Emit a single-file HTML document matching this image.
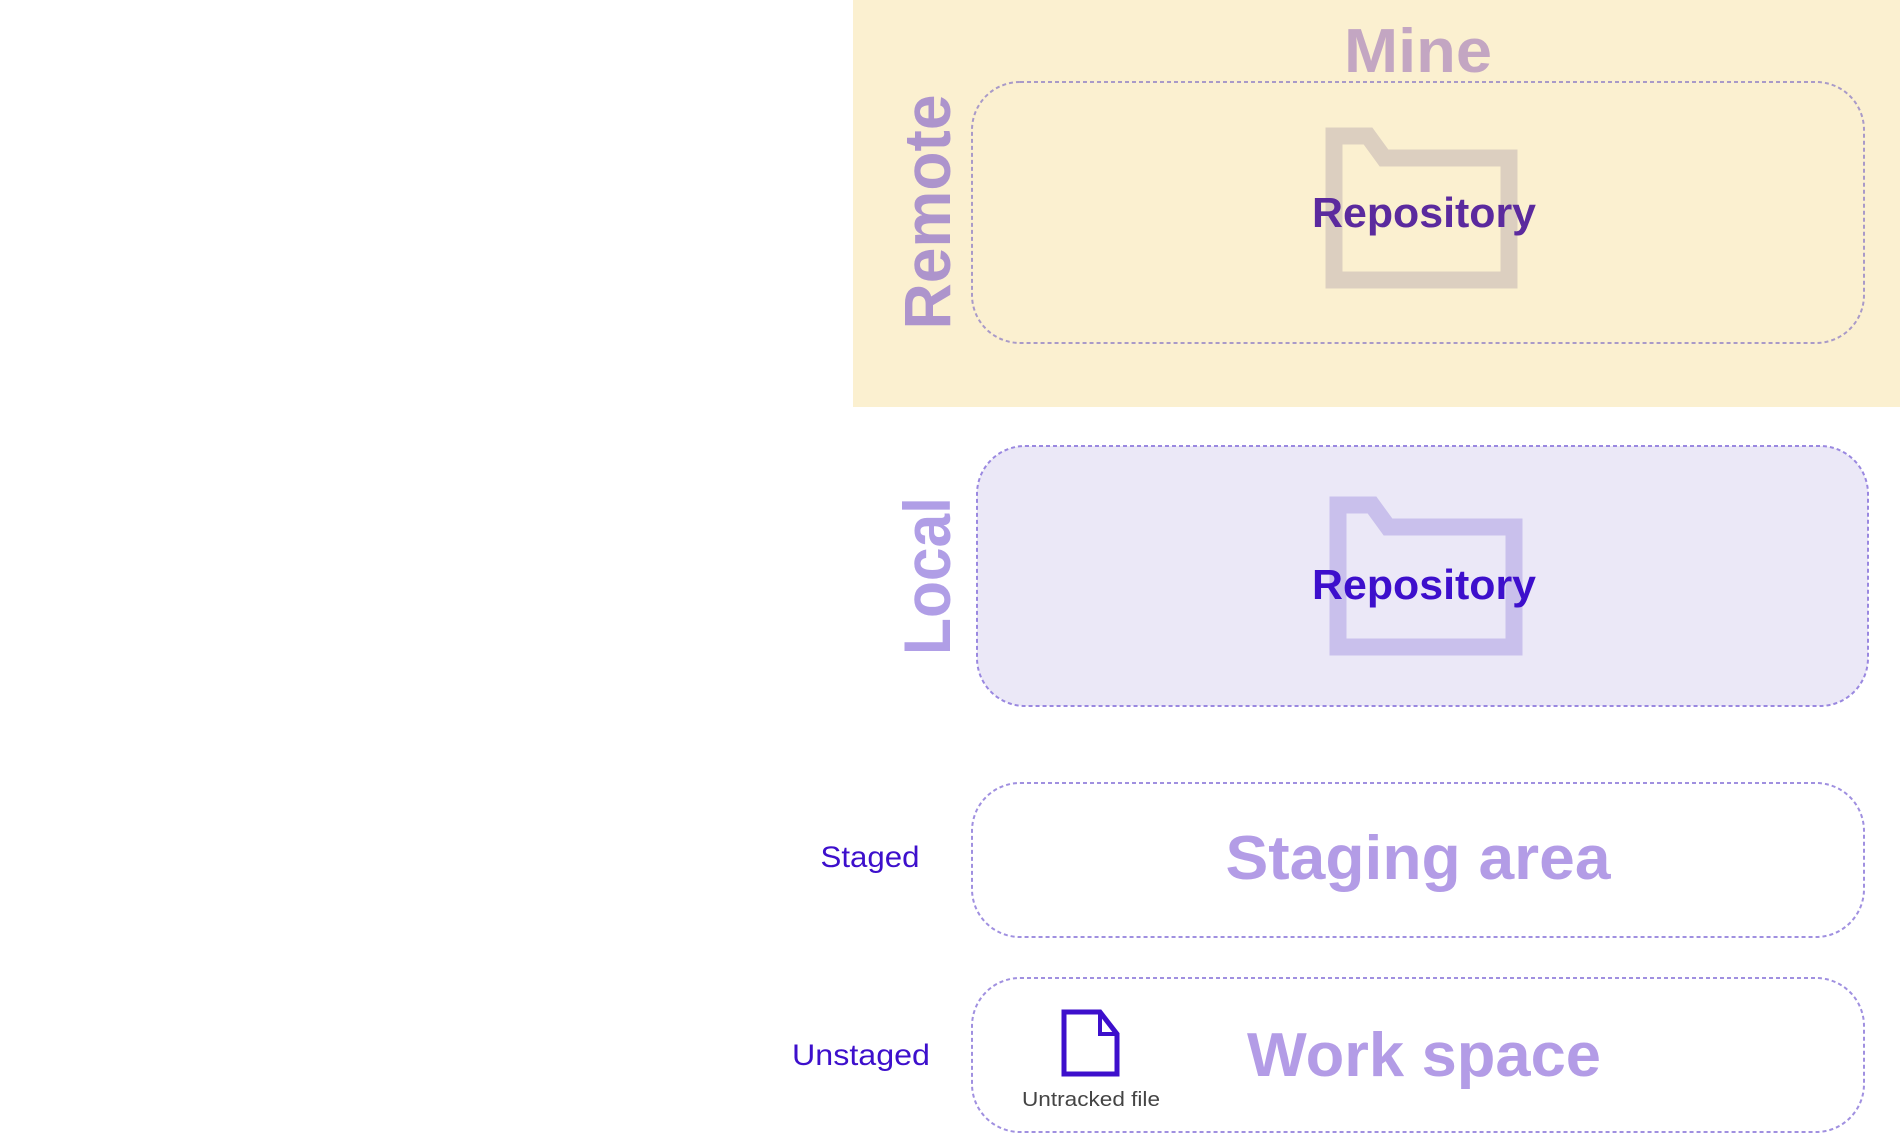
<!DOCTYPE html>
<html><head><meta charset="utf-8"><style>html,body{margin:0;padding:0;background:#fff;width:1900px;height:1146px;overflow:hidden}</style></head>
<body>
<svg width="1900" height="1146" viewBox="0 0 1900 1146" xmlns="http://www.w3.org/2000/svg" font-family="Liberation Sans, sans-serif">
<rect x="853" y="0" width="1047" height="407" fill="#fbf0d0"/>
<text x="1418" y="72" text-anchor="middle" font-size="62" font-weight="bold" fill="#c3a6c2" textLength="148" lengthAdjust="spacingAndGlyphs">Mine</text>
<rect x="972" y="82" width="892" height="261" rx="48" fill="none" stroke="#a99ac8" stroke-width="2" stroke-dasharray="4 3"/>
<path d="M1334 136 H1368 L1384 158 H1509 V280 H1334 Z" fill="none" stroke="#dccfc0" stroke-width="17"/>
<text x="1424" y="227" text-anchor="middle" font-size="42" font-weight="bold" fill="#5b2a9e" textLength="224" lengthAdjust="spacingAndGlyphs">Repository</text>
<text transform="translate(950,212) rotate(-90)" text-anchor="middle" font-size="66" font-weight="bold" fill="#ad94cc" textLength="235" lengthAdjust="spacingAndGlyphs">Remote</text>

<rect x="977" y="446" width="891" height="260" rx="48" fill="#ebe8f7" stroke="#9a88e0" stroke-width="2" stroke-dasharray="4 3"/>
<path d="M1338 505 H1372 L1388 527 H1514 V647 H1338 Z" fill="none" stroke="#c9c0ec" stroke-width="17"/>
<text x="1424" y="599" text-anchor="middle" font-size="42" font-weight="bold" fill="#3d0fcc" textLength="224" lengthAdjust="spacingAndGlyphs">Repository</text>
<text transform="translate(950,576) rotate(-90)" text-anchor="middle" font-size="66" font-weight="bold" fill="#b09ee6" textLength="158" lengthAdjust="spacingAndGlyphs">Local</text>

<rect x="972" y="783" width="892" height="154" rx="48" fill="none" stroke="#a090e0" stroke-width="2" stroke-dasharray="4 3"/>
<text x="870" y="867" text-anchor="middle" font-size="30" fill="#3d0fcc" textLength="99" lengthAdjust="spacingAndGlyphs">Staged</text>
<text x="1418" y="879" text-anchor="middle" font-size="62" font-weight="bold" fill="#b39ce6" textLength="385" lengthAdjust="spacingAndGlyphs">Staging area</text>

<rect x="972" y="978" width="892" height="154" rx="48" fill="none" stroke="#a090e0" stroke-width="2" stroke-dasharray="4 3"/>
<text x="861" y="1065" text-anchor="middle" font-size="30" fill="#3d0fcc" textLength="138" lengthAdjust="spacingAndGlyphs">Unstaged</text>
<text x="1424" y="1076" text-anchor="middle" font-size="62" font-weight="bold" fill="#b39ce6" textLength="354" lengthAdjust="spacingAndGlyphs">Work space</text>
<path d="M1064 1012 H1100 L1117 1034 V1074 H1064 Z" fill="#fff" stroke="#3d0fcc" stroke-width="5"/>
<path d="M1100 1012 V1034 H1117" fill="none" stroke="#3d0fcc" stroke-width="4"/>
<text x="1091" y="1106" text-anchor="middle" font-size="20" fill="#444" textLength="138" lengthAdjust="spacingAndGlyphs">Untracked file</text>
</svg>
</body></html>
